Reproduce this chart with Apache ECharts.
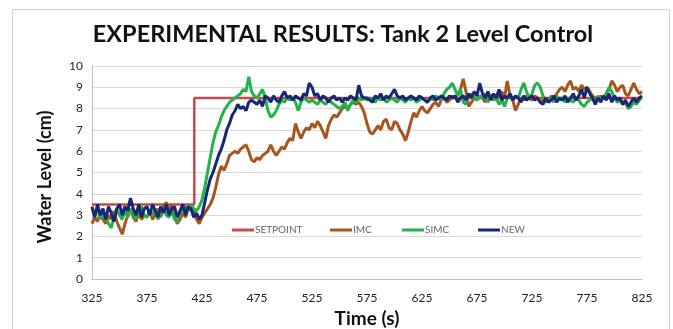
<!DOCTYPE html>
<html>
<head>
<meta charset="utf-8">
<style>
  html, body { margin: 0; padding: 0; background: #ffffff; }
  #chart { width: 673px; height: 329px; }
</style>
<script src="https://cdn.jsdelivr.net/npm/echarts@6/dist/echarts.min.js"></script>
</head>
<body>
<div id="chart"></div>
<script>
// Tank 2 level-control run: water level (cm) sampled every 2.5 s from t = 325 s.
const sampleStart = 325;
const sampleStep = 2.5;

const seriesNames = ['SETPOINT', 'IMC', 'SIMC', 'NEW'];

// Setpoint step: 3.5 cm, stepping to 8.5 cm at t = 418 s.
const setpointTimes = [325, 418, 418, 825];
const setpointValues = [3.5, 3.5, 8.5, 8.5];

const imcValues = [
  2.6, 2.9, 2.7, 3.1, 2.8, 2.6, 3.0, 2.8, 3.2, 2.7, 2.4, 2.1, 2.6, 3.0, 3.3, 2.9, 2.7, 3.1, 2.8, 3.0,
  2.9, 3.2, 2.8, 3.0, 3.3, 2.9, 3.4, 3.6, 3.2, 3.5, 2.9, 2.6, 2.8, 3.1, 2.9, 3.3, 3.5, 3.2, 2.8, 2.6,
  2.9, 3.1, 3.3, 3.5, 3.8, 4.3, 4.9, 5.3, 5.1, 5.4, 5.8, 5.9, 6.0, 5.9, 6.1, 6.2, 6.3, 6.0, 5.6, 5.5,
  5.7, 5.6, 5.8, 5.9, 6.0, 6.3, 6.0, 5.8, 6.0, 6.2, 6.1, 6.4, 6.6, 6.5, 7.3, 6.9, 6.6, 6.9, 7.1, 7.0,
  7.3, 7.1, 7.4, 7.2, 6.9, 6.6, 7.2, 7.5, 7.7, 7.6, 7.8, 8.0, 8.1, 8.0, 8.2, 8.3, 8.2, 8.3, 8.1, 7.8,
  7.3, 6.9, 6.8, 7.0, 7.2, 7.0, 7.4, 7.5, 7.1, 7.0, 7.4, 7.3, 7.0, 6.8, 6.5, 6.9, 7.4, 7.8, 7.6, 7.9,
  8.1, 7.9, 7.8, 8.0, 8.2, 8.3, 8.1, 8.4, 8.5, 8.3, 8.4, 8.6, 8.5, 8.7, 8.9, 9.4, 8.8, 8.1, 8.3, 8.5,
  8.4, 8.6, 8.5, 8.3, 8.6, 8.5, 8.7, 8.4, 8.6, 8.8, 8.5, 9.3, 8.6, 8.4, 7.9, 8.2, 8.5, 8.4, 8.6, 8.5,
  8.4, 8.6, 8.5, 8.3, 8.4, 8.5, 8.3, 8.6, 8.5, 8.7, 8.9, 9.0, 8.8, 9.1, 9.3, 8.9, 9.0, 8.8, 9.1, 8.9,
  9.0, 8.8, 8.6, 8.5, 8.4, 8.6, 8.5, 8.7, 8.9, 9.3, 9.1, 8.8, 9.0, 9.1, 8.7, 8.6, 8.9, 9.2, 8.9, 8.7, 8.8
];

const simcValues = [
  3.3, 3.0, 3.4, 2.8, 3.2, 2.9, 2.6, 2.4, 2.9, 3.3, 3.0, 2.8, 3.2, 2.9, 3.3, 3.1, 2.8, 3.2, 3.4, 3.0,
  2.9, 3.2, 3.0, 3.3, 2.8, 3.1, 3.4, 3.0, 2.9, 3.2, 2.8, 2.7, 3.1, 3.3, 3.4, 3.2, 3.5, 3.3, 3.2, 3.4,
  3.7, 4.3, 5.0, 5.7, 6.4, 6.9, 7.2, 7.6, 7.9, 8.1, 8.3, 8.4, 8.5, 8.6, 8.7, 8.9, 8.8, 9.5, 8.8, 8.6,
  8.5, 8.7, 8.9, 8.5, 7.9, 7.6, 7.7, 7.9, 8.2, 8.4, 8.3, 8.5, 8.4, 8.5, 8.3, 7.9, 8.3, 8.5, 8.4, 8.3,
  8.4, 8.3, 8.2, 8.4, 8.3, 8.2, 8.4, 8.3, 8.2, 8.1, 8.0, 8.1, 8.3, 7.9, 8.2, 8.4, 8.3, 8.5, 8.4, 8.5,
  8.4, 8.5, 8.4, 8.3, 8.5, 8.4, 8.5, 8.3, 8.4, 8.5, 8.4, 8.3, 8.5, 8.4, 8.3, 8.5, 8.4, 8.5, 8.3, 8.4,
  8.5, 8.4, 8.3, 8.5, 8.4, 8.6, 8.5, 8.4, 8.7, 8.9, 9.0, 9.2, 8.9, 8.6, 8.9, 8.3, 8.2, 8.6, 8.7, 8.5,
  8.4, 8.6, 8.5, 8.7, 8.3, 8.6, 8.4, 8.5, 8.2, 8.4, 8.1, 8.5, 8.7, 8.4, 8.6, 8.5, 8.9, 9.2, 8.8, 8.5,
  8.7, 9.1, 9.2, 9.0, 8.6, 8.3, 8.4, 8.5, 8.3, 8.6, 8.4, 8.5, 8.3, 8.5, 8.4, 8.3, 8.5, 8.4, 8.2, 8.1,
  8.3, 8.4, 8.5, 8.3, 8.6, 8.4, 8.5, 8.7, 9.0, 8.8, 8.5, 8.3, 8.4, 8.2, 8.3, 8.0, 8.1, 8.3, 8.2, 8.4, 8.5
];

const newValues = [
  3.4, 2.9, 3.5, 3.0, 3.3, 2.8, 3.4, 3.1, 2.7, 3.3, 3.5, 3.0, 3.4, 3.2, 3.8, 3.3, 3.0, 3.5, 2.9, 3.3,
  3.4, 3.0, 3.5, 3.2, 2.9, 3.4, 3.1, 3.5, 3.0, 3.3, 3.4, 2.9, 3.2, 3.5, 3.0, 3.4, 3.3, 2.9, 3.1, 2.8,
  3.0, 3.6, 4.2, 4.7, 5.0, 5.4, 5.8, 6.1, 6.5, 7.0, 7.3, 7.7, 7.9, 8.2, 8.0, 8.1, 7.9, 8.3, 8.4, 8.3,
  8.2, 8.4, 8.1, 8.6, 8.5, 8.3, 8.6, 8.4, 8.3, 8.6, 8.8, 8.5, 8.6, 8.4, 8.6, 8.5, 8.4, 8.7, 8.6, 9.2,
  9.0, 8.6, 8.7, 8.4, 8.6, 8.5, 8.3, 8.5, 8.6, 8.4, 8.5, 8.3, 8.5, 8.4, 8.6, 8.5, 8.4, 9.1, 8.6, 8.5,
  8.5, 8.4, 8.3, 8.6, 8.5, 8.7, 8.4, 8.6, 8.5, 8.7, 8.9, 8.6, 8.5, 8.6, 8.4, 8.5, 8.6, 8.5, 8.4, 8.6,
  8.5, 8.4, 8.3, 8.5, 8.6, 8.4, 8.5, 8.6, 8.5, 8.4, 8.6, 8.5, 8.6, 8.3, 8.5, 8.6, 8.4, 8.7, 8.5, 8.8,
  8.6, 9.2, 8.7, 8.5, 8.8, 8.4, 8.7, 8.5, 8.9, 8.4, 8.6, 8.5, 8.7, 8.4, 8.6, 8.5, 8.3, 8.6, 8.4, 8.5,
  8.6, 8.4, 8.5, 8.3, 8.2, 8.5, 8.3, 8.4, 8.6, 8.3, 8.5, 8.4, 8.6, 8.3, 8.5, 8.7, 8.4, 8.6, 8.9, 8.5,
  9.0, 8.7, 8.5, 8.2, 8.5, 8.3, 8.6, 8.4, 8.7, 8.3, 8.6, 8.4, 8.5, 8.2, 8.4, 8.1, 8.3, 8.5, 8.3, 8.5, 8.6
];

const xTickLabels = [325, 375, 425, 475, 525, 575, 625, 675, 725, 775, 825];
const yTickLabels = [0, 1, 2, 3, 4, 5, 6, 7, 8, 9, 10];

const colors = {
  SETPOINT: '#C8494B',
  IMC: '#A8561D',
  SIMC: '#22B24C',
  NEW: '#172772'
};

const FONT = "Lato, 'Liberation Sans', sans-serif";

function sampled(values) {
  return values.map((v, i) => [sampleStart + i * sampleStep, v]);
}

const setpointData = setpointTimes.map((t, i) => [t, setpointValues[i]]);

function lineSeries(name, data, width) {
  return {
    name: name,
    type: 'line',
    data: data,
    showSymbol: false,
    symbol: 'none',
    smooth: false,
    animation: false,
    lineStyle: { color: colors[name], width: width },
    itemStyle: { color: colors[name] },
    emphasis: { disabled: true }
  };
}

const legendLefts = [232, 330, 402, 478];

const chart = echarts.init(document.getElementById('chart'), null, { renderer: 'canvas' });

chart.setOption({
  backgroundColor: '#ffffff',
  animation: false,
  title: {
    text: 'EXPERIMENTAL RESULTS: Tank 2 Level Control',
    left: 343,
    textAlign: 'center',
    top: 22,
    padding: 0,
    textStyle: { fontFamily: FONT, fontWeight: 'bold', fontSize: 23.5, color: '#111111' }
  },
  graphic: [{
    type: 'rect',
    silent: true,
    shape: { x: 12.5, y: 9.5, width: 657, height: 340 },
    style: { fill: 'none', stroke: '#D0D0D0', lineWidth: 1 }
  }],
  legend: seriesNames.map((name, k) => ({
    data: [name],
    left: legendLefts[k],
    top: 225,
    icon: 'rect',
    itemWidth: 22,
    itemHeight: 3,
    itemGap: 0,
    padding: 0,
    selectedMode: false,
    textStyle: { fontFamily: FONT, fontSize: 10, color: '#666666', padding: [0, 0, 0, -4] }
  })),
  grid: { left: 92, right: 31, top: 66, bottom: 50, containLabel: false, outerBoundsMode: 'none' },
  xAxis: {
    type: 'value',
    min: 325,
    max: 825,
    name: 'Time (s)',
    nameLocation: 'middle',
    nameGap: 30,
    nameTextStyle: { fontFamily: FONT, fontWeight: 'bold', fontSize: 19, color: '#111111' },
    axisLine: { show: true, lineStyle: { color: '#BFBFBF', width: 1 } },
    axisTick: { show: false },
    splitLine: { show: false },
    axisLabel: {
      customValues: xTickLabels,
      margin: 13,
      fontFamily: FONT,
      fontSize: 12,
      color: '#222222'
    }
  },
  yAxis: {
    type: 'value',
    min: 0,
    max: 10,
    interval: 1,
    name: 'Water Level (cm)',
    nameLocation: 'middle',
    nameGap: 38,
    nameTextStyle: { fontFamily: FONT, fontWeight: 'bold', fontSize: 18, color: '#111111', padding: [0, 9, 0, 0] },
    axisLine: { show: true, lineStyle: { color: '#BFBFBF', width: 1 } },
    axisTick: { show: false },
    splitLine: { show: true, lineStyle: { color: '#D9D9D9', width: 1 } },
    axisLabel: {
      customValues: yTickLabels,
      margin: 9,
      fontFamily: FONT,
      fontSize: 12,
      color: '#222222'
    }
  },
  series: [
    lineSeries('SETPOINT', setpointData, 2.5),
    lineSeries('IMC', sampled(imcValues), 3),
    lineSeries('SIMC', sampled(simcValues), 3),
    lineSeries('NEW', sampled(newValues), 3)
  ]
});
</script>
</body>
</html>
